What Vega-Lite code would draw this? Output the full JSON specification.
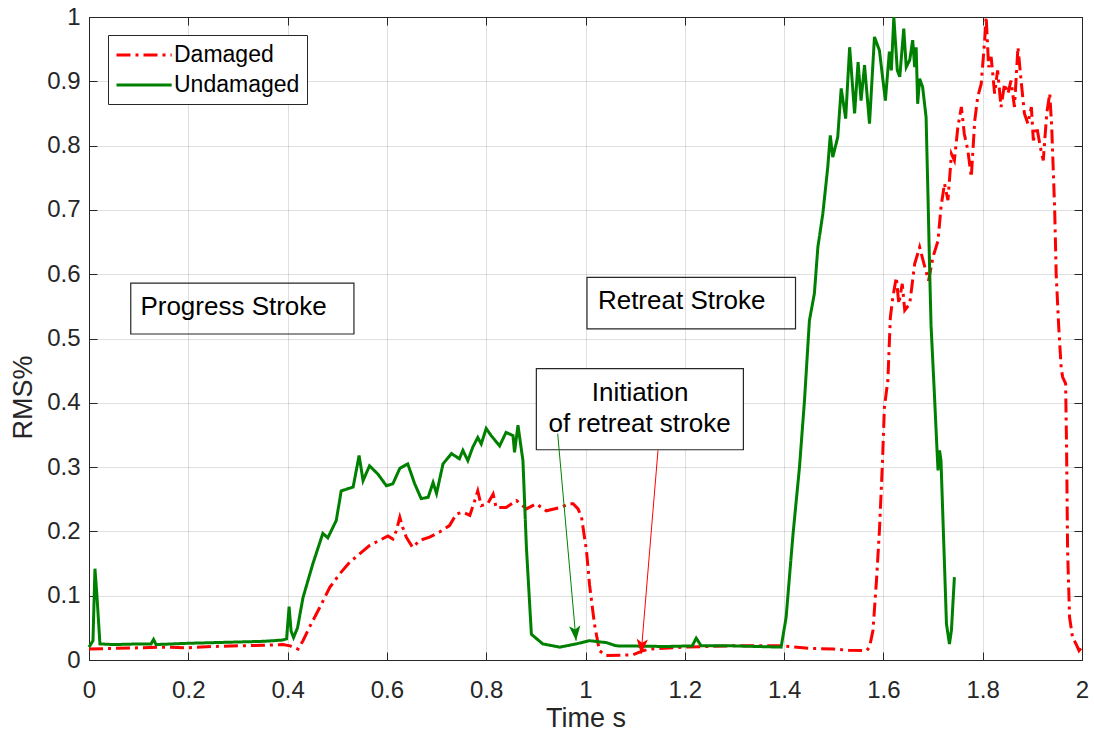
{
  "$schema": "https://vega.github.io/schema/vega-lite/v6.json",
  "width": 993,
  "height": 643,
  "autosize": {"type": "none"},
  "padding": {"left": 89, "top": 17, "right": 12, "bottom": 75},
  "background": "white",
  "config": {
    "font": "Liberation Sans",
    "view": {"stroke": "#262626", "strokeWidth": 1},
    "axis": {
      "labelFont": "Liberation Sans",
      "titleFont": "Liberation Sans",
      "labelFontSize": 24,
      "titleFontSize": 27,
      "titleFontWeight": "normal",
      "labelColor": "#262626",
      "titleColor": "#262626",
      "domainColor": "#262626",
      "tickColor": "#262626",
      "gridColor": "#262626",
      "gridOpacity": 0.15,
      "gridWidth": 1,
      "labelFlush": false
    }
  },
  "datasets": {
    "curves": [
      {"series": "Damaged", "t": 0, "v": 0.017},
      {"series": "Damaged", "t": 0.05, "v": 0.018},
      {"series": "Damaged", "t": 0.1, "v": 0.019},
      {"series": "Damaged", "t": 0.15, "v": 0.02},
      {"series": "Damaged", "t": 0.2, "v": 0.019},
      {"series": "Damaged", "t": 0.25, "v": 0.021},
      {"series": "Damaged", "t": 0.3, "v": 0.022},
      {"series": "Damaged", "t": 0.35, "v": 0.023},
      {"series": "Damaged", "t": 0.39, "v": 0.024},
      {"series": "Damaged", "t": 0.405, "v": 0.022},
      {"series": "Damaged", "t": 0.421, "v": 0.017},
      {"series": "Damaged", "t": 0.431, "v": 0.03},
      {"series": "Damaged", "t": 0.444, "v": 0.051},
      {"series": "Damaged", "t": 0.465, "v": 0.082},
      {"series": "Damaged", "t": 0.485, "v": 0.113},
      {"series": "Damaged", "t": 0.505, "v": 0.134},
      {"series": "Damaged", "t": 0.525, "v": 0.152},
      {"series": "Damaged", "t": 0.545, "v": 0.165},
      {"series": "Damaged", "t": 0.565, "v": 0.178},
      {"series": "Damaged", "t": 0.585, "v": 0.186},
      {"series": "Damaged", "t": 0.602, "v": 0.193},
      {"series": "Damaged", "t": 0.612, "v": 0.188},
      {"series": "Damaged", "t": 0.619, "v": 0.201},
      {"series": "Damaged", "t": 0.626, "v": 0.222},
      {"series": "Damaged", "t": 0.632, "v": 0.206},
      {"series": "Damaged", "t": 0.639, "v": 0.191},
      {"series": "Damaged", "t": 0.652, "v": 0.175},
      {"series": "Damaged", "t": 0.666, "v": 0.186},
      {"series": "Damaged", "t": 0.686, "v": 0.191},
      {"series": "Damaged", "t": 0.706, "v": 0.199},
      {"series": "Damaged", "t": 0.726, "v": 0.209},
      {"series": "Damaged", "t": 0.74, "v": 0.227},
      {"series": "Damaged", "t": 0.753, "v": 0.23},
      {"series": "Damaged", "t": 0.767, "v": 0.225},
      {"series": "Damaged", "t": 0.777, "v": 0.248},
      {"series": "Damaged", "t": 0.783, "v": 0.263},
      {"series": "Damaged", "t": 0.79, "v": 0.24},
      {"series": "Damaged", "t": 0.803, "v": 0.243},
      {"series": "Damaged", "t": 0.814, "v": 0.258},
      {"series": "Damaged", "t": 0.82, "v": 0.237},
      {"series": "Damaged", "t": 0.84, "v": 0.237},
      {"series": "Damaged", "t": 0.861, "v": 0.248},
      {"series": "Damaged", "t": 0.881, "v": 0.235},
      {"series": "Damaged", "t": 0.901, "v": 0.243},
      {"series": "Damaged", "t": 0.921, "v": 0.232},
      {"series": "Damaged", "t": 0.948, "v": 0.237},
      {"series": "Damaged", "t": 0.968, "v": 0.243},
      {"series": "Damaged", "t": 0.975, "v": 0.243},
      {"series": "Damaged", "t": 0.985, "v": 0.235},
      {"series": "Damaged", "t": 0.992, "v": 0.222},
      {"series": "Damaged", "t": 1.002, "v": 0.17},
      {"series": "Damaged", "t": 1.008, "v": 0.118},
      {"series": "Damaged", "t": 1.018, "v": 0.056},
      {"series": "Damaged", "t": 1.028, "v": 0.0145},
      {"series": "Damaged", "t": 1.042, "v": 0.007},
      {"series": "Damaged", "t": 1.095, "v": 0.008},
      {"series": "Damaged", "t": 1.116, "v": 0.0145},
      {"series": "Damaged", "t": 1.129, "v": 0.017},
      {"series": "Damaged", "t": 1.196, "v": 0.02},
      {"series": "Damaged", "t": 1.297, "v": 0.022},
      {"series": "Damaged", "t": 1.391, "v": 0.022},
      {"series": "Damaged", "t": 1.411, "v": 0.021},
      {"series": "Damaged", "t": 1.45, "v": 0.018},
      {"series": "Damaged", "t": 1.5, "v": 0.017},
      {"series": "Damaged", "t": 1.53, "v": 0.015},
      {"series": "Damaged", "t": 1.566, "v": 0.0145},
      {"series": "Damaged", "t": 1.572, "v": 0.02},
      {"series": "Damaged", "t": 1.579, "v": 0.046},
      {"series": "Damaged", "t": 1.586, "v": 0.123},
      {"series": "Damaged", "t": 1.592, "v": 0.201},
      {"series": "Damaged", "t": 1.598, "v": 0.305},
      {"series": "Damaged", "t": 1.602, "v": 0.393},
      {"series": "Damaged", "t": 1.609, "v": 0.435},
      {"series": "Damaged", "t": 1.614, "v": 0.533},
      {"series": "Damaged", "t": 1.619, "v": 0.564},
      {"series": "Damaged", "t": 1.626, "v": 0.595},
      {"series": "Damaged", "t": 1.631, "v": 0.554},
      {"series": "Damaged", "t": 1.638, "v": 0.585},
      {"series": "Damaged", "t": 1.643, "v": 0.544},
      {"series": "Damaged", "t": 1.653, "v": 0.554},
      {"series": "Damaged", "t": 1.663, "v": 0.616},
      {"series": "Damaged", "t": 1.673, "v": 0.642},
      {"series": "Damaged", "t": 1.68, "v": 0.621},
      {"series": "Damaged", "t": 1.691, "v": 0.59},
      {"series": "Damaged", "t": 1.7, "v": 0.627},
      {"series": "Damaged", "t": 1.71, "v": 0.652},
      {"series": "Damaged", "t": 1.716, "v": 0.704},
      {"series": "Damaged", "t": 1.723, "v": 0.741},
      {"series": "Damaged", "t": 1.73, "v": 0.715},
      {"series": "Damaged", "t": 1.737, "v": 0.787},
      {"series": "Damaged", "t": 1.743, "v": 0.777},
      {"series": "Damaged", "t": 1.75, "v": 0.829},
      {"series": "Damaged", "t": 1.757, "v": 0.86},
      {"series": "Damaged", "t": 1.763, "v": 0.818},
      {"series": "Damaged", "t": 1.77, "v": 0.793},
      {"series": "Damaged", "t": 1.777, "v": 0.751},
      {"series": "Damaged", "t": 1.784, "v": 0.839},
      {"series": "Damaged", "t": 1.79, "v": 0.876},
      {"series": "Damaged", "t": 1.797, "v": 0.896},
      {"series": "Damaged", "t": 1.804, "v": 0.964},
      {"series": "Damaged", "t": 1.807, "v": 1.0},
      {"series": "Damaged", "t": 1.812, "v": 0.922},
      {"series": "Damaged", "t": 1.817, "v": 0.938},
      {"series": "Damaged", "t": 1.824, "v": 0.881},
      {"series": "Damaged", "t": 1.83, "v": 0.917},
      {"series": "Damaged", "t": 1.837, "v": 0.86},
      {"series": "Damaged", "t": 1.844, "v": 0.896},
      {"series": "Damaged", "t": 1.851, "v": 0.881},
      {"series": "Damaged", "t": 1.857, "v": 0.901},
      {"series": "Damaged", "t": 1.864, "v": 0.86},
      {"series": "Damaged", "t": 1.871, "v": 0.953},
      {"series": "Damaged", "t": 1.878, "v": 0.896},
      {"series": "Damaged", "t": 1.884, "v": 0.85},
      {"series": "Damaged", "t": 1.891, "v": 0.834},
      {"series": "Damaged", "t": 1.898, "v": 0.86},
      {"series": "Damaged", "t": 1.902, "v": 0.808},
      {"series": "Damaged", "t": 1.909, "v": 0.829},
      {"series": "Damaged", "t": 1.916, "v": 0.798},
      {"series": "Damaged", "t": 1.922, "v": 0.777},
      {"series": "Damaged", "t": 1.929, "v": 0.85},
      {"series": "Damaged", "t": 1.935, "v": 0.881},
      {"series": "Damaged", "t": 1.939, "v": 0.829},
      {"series": "Damaged", "t": 1.945, "v": 0.7},
      {"series": "Damaged", "t": 1.948, "v": 0.6},
      {"series": "Damaged", "t": 1.953, "v": 0.52},
      {"series": "Damaged", "t": 1.958, "v": 0.455},
      {"series": "Damaged", "t": 1.961, "v": 0.44},
      {"series": "Damaged", "t": 1.967, "v": 0.43},
      {"series": "Damaged", "t": 1.969, "v": 0.326},
      {"series": "Damaged", "t": 1.971, "v": 0.17},
      {"series": "Damaged", "t": 1.975, "v": 0.066},
      {"series": "Damaged", "t": 1.981, "v": 0.035},
      {"series": "Damaged", "t": 1.988, "v": 0.025},
      {"series": "Damaged", "t": 1.994, "v": 0.0145},
      {"series": "Damaged", "t": 2.0, "v": 0.02},
      {"series": "Undamaged", "t": 0, "v": 0.02},
      {"series": "Undamaged", "t": 0.008, "v": 0.03},
      {"series": "Undamaged", "t": 0.012, "v": 0.142},
      {"series": "Undamaged", "t": 0.016, "v": 0.1},
      {"series": "Undamaged", "t": 0.022, "v": 0.025},
      {"series": "Undamaged", "t": 0.05, "v": 0.024},
      {"series": "Undamaged", "t": 0.1, "v": 0.025},
      {"series": "Undamaged", "t": 0.125, "v": 0.025},
      {"series": "Undamaged", "t": 0.13, "v": 0.032},
      {"series": "Undamaged", "t": 0.135, "v": 0.024},
      {"series": "Undamaged", "t": 0.2, "v": 0.026},
      {"series": "Undamaged", "t": 0.25, "v": 0.027},
      {"series": "Undamaged", "t": 0.3, "v": 0.028},
      {"series": "Undamaged", "t": 0.35, "v": 0.029},
      {"series": "Undamaged", "t": 0.39, "v": 0.031},
      {"series": "Undamaged", "t": 0.398, "v": 0.033},
      {"series": "Undamaged", "t": 0.403, "v": 0.083},
      {"series": "Undamaged", "t": 0.407, "v": 0.045},
      {"series": "Undamaged", "t": 0.412, "v": 0.035},
      {"series": "Undamaged", "t": 0.42, "v": 0.05},
      {"series": "Undamaged", "t": 0.431, "v": 0.097},
      {"series": "Undamaged", "t": 0.451, "v": 0.15},
      {"series": "Undamaged", "t": 0.471, "v": 0.197},
      {"series": "Undamaged", "t": 0.481, "v": 0.19},
      {"series": "Undamaged", "t": 0.498, "v": 0.217},
      {"series": "Undamaged", "t": 0.508, "v": 0.263},
      {"series": "Undamaged", "t": 0.532, "v": 0.269},
      {"series": "Undamaged", "t": 0.544, "v": 0.318},
      {"series": "Undamaged", "t": 0.552, "v": 0.279},
      {"series": "Undamaged", "t": 0.565, "v": 0.302},
      {"series": "Undamaged", "t": 0.582, "v": 0.289},
      {"series": "Undamaged", "t": 0.599, "v": 0.271},
      {"series": "Undamaged", "t": 0.612, "v": 0.274},
      {"series": "Undamaged", "t": 0.626, "v": 0.298},
      {"series": "Undamaged", "t": 0.642, "v": 0.305},
      {"series": "Undamaged", "t": 0.656, "v": 0.274},
      {"series": "Undamaged", "t": 0.669, "v": 0.251},
      {"series": "Undamaged", "t": 0.683, "v": 0.253},
      {"series": "Undamaged", "t": 0.693, "v": 0.276},
      {"series": "Undamaged", "t": 0.7, "v": 0.259},
      {"series": "Undamaged", "t": 0.713, "v": 0.305},
      {"series": "Undamaged", "t": 0.73, "v": 0.321},
      {"series": "Undamaged", "t": 0.746, "v": 0.313},
      {"series": "Undamaged", "t": 0.753, "v": 0.326},
      {"series": "Undamaged", "t": 0.763, "v": 0.31},
      {"series": "Undamaged", "t": 0.773, "v": 0.331},
      {"series": "Undamaged", "t": 0.783, "v": 0.346},
      {"series": "Undamaged", "t": 0.79, "v": 0.336},
      {"series": "Undamaged", "t": 0.8, "v": 0.36},
      {"series": "Undamaged", "t": 0.81, "v": 0.349},
      {"series": "Undamaged", "t": 0.827, "v": 0.333},
      {"series": "Undamaged", "t": 0.84, "v": 0.354},
      {"series": "Undamaged", "t": 0.854, "v": 0.349},
      {"series": "Undamaged", "t": 0.857, "v": 0.323},
      {"series": "Undamaged", "t": 0.864, "v": 0.365},
      {"series": "Undamaged", "t": 0.874, "v": 0.31},
      {"series": "Undamaged", "t": 0.881, "v": 0.175},
      {"series": "Undamaged", "t": 0.891, "v": 0.04},
      {"series": "Undamaged", "t": 0.914, "v": 0.025},
      {"series": "Undamaged", "t": 0.948, "v": 0.02},
      {"series": "Undamaged", "t": 0.981, "v": 0.025},
      {"series": "Undamaged", "t": 1.008, "v": 0.03},
      {"series": "Undamaged", "t": 1.042, "v": 0.027},
      {"series": "Undamaged", "t": 1.062, "v": 0.022},
      {"series": "Undamaged", "t": 1.163, "v": 0.021},
      {"series": "Undamaged", "t": 1.215, "v": 0.022},
      {"series": "Undamaged", "t": 1.223, "v": 0.034},
      {"series": "Undamaged", "t": 1.233, "v": 0.022},
      {"series": "Undamaged", "t": 1.297, "v": 0.022},
      {"series": "Undamaged", "t": 1.394, "v": 0.02},
      {"series": "Undamaged", "t": 1.404, "v": 0.066},
      {"series": "Undamaged", "t": 1.418, "v": 0.196},
      {"series": "Undamaged", "t": 1.431, "v": 0.3},
      {"series": "Undamaged", "t": 1.441, "v": 0.403},
      {"series": "Undamaged", "t": 1.451, "v": 0.528},
      {"series": "Undamaged", "t": 1.461, "v": 0.57},
      {"series": "Undamaged", "t": 1.468, "v": 0.642},
      {"series": "Undamaged", "t": 1.478, "v": 0.694},
      {"series": "Undamaged", "t": 1.488, "v": 0.767},
      {"series": "Undamaged", "t": 1.493, "v": 0.816},
      {"series": "Undamaged", "t": 1.498, "v": 0.782},
      {"series": "Undamaged", "t": 1.508, "v": 0.813},
      {"series": "Undamaged", "t": 1.515, "v": 0.889},
      {"series": "Undamaged", "t": 1.524, "v": 0.842},
      {"series": "Undamaged", "t": 1.532, "v": 0.953},
      {"series": "Undamaged", "t": 1.542, "v": 0.85},
      {"series": "Undamaged", "t": 1.549, "v": 0.93},
      {"series": "Undamaged", "t": 1.555, "v": 0.87},
      {"series": "Undamaged", "t": 1.562, "v": 0.925},
      {"series": "Undamaged", "t": 1.572, "v": 0.834},
      {"series": "Undamaged", "t": 1.582, "v": 0.969},
      {"series": "Undamaged", "t": 1.592, "v": 0.948},
      {"series": "Undamaged", "t": 1.604, "v": 0.87},
      {"series": "Undamaged", "t": 1.612, "v": 0.946},
      {"series": "Undamaged", "t": 1.616, "v": 0.917},
      {"series": "Undamaged", "t": 1.621, "v": 1.0},
      {"series": "Undamaged", "t": 1.628, "v": 0.917},
      {"series": "Undamaged", "t": 1.633, "v": 0.907},
      {"series": "Undamaged", "t": 1.641, "v": 0.982},
      {"series": "Undamaged", "t": 1.646, "v": 0.922},
      {"series": "Undamaged", "t": 1.653, "v": 0.933},
      {"series": "Undamaged", "t": 1.659, "v": 0.964},
      {"series": "Undamaged", "t": 1.663, "v": 0.922},
      {"series": "Undamaged", "t": 1.666, "v": 0.953},
      {"series": "Undamaged", "t": 1.669, "v": 0.865},
      {"series": "Undamaged", "t": 1.673, "v": 0.904},
      {"series": "Undamaged", "t": 1.679, "v": 0.891},
      {"series": "Undamaged", "t": 1.686, "v": 0.844},
      {"series": "Undamaged", "t": 1.69, "v": 0.715},
      {"series": "Undamaged", "t": 1.693, "v": 0.611},
      {"series": "Undamaged", "t": 1.696, "v": 0.52},
      {"series": "Undamaged", "t": 1.703, "v": 0.409},
      {"series": "Undamaged", "t": 1.708, "v": 0.326},
      {"series": "Undamaged", "t": 1.71, "v": 0.295},
      {"series": "Undamaged", "t": 1.713, "v": 0.326},
      {"series": "Undamaged", "t": 1.716, "v": 0.31},
      {"series": "Undamaged", "t": 1.723, "v": 0.149},
      {"series": "Undamaged", "t": 1.727, "v": 0.056},
      {"series": "Undamaged", "t": 1.733, "v": 0.025},
      {"series": "Undamaged", "t": 1.737, "v": 0.046},
      {"series": "Undamaged", "t": 1.743, "v": 0.129}
    ],
    "boxes": [
      {"box": "progress", "t": 0.0841, "t2": 0.5336, "v": 0.586, "v2": 0.507},
      {"box": "retreat", "t": 1.003, "t2": 1.423, "v": 0.595, "v2": 0.515}
    ],
    "noteBox": [
      {"box": "initiation", "t": 0.901, "t2": 1.318, "v": 0.453, "v2": 0.327}
    ],
    "labels": [
      {"label": "Progress Stroke", "t": 0.1035, "v": 0.537},
      {"label": "Retreat Stroke", "t": 1.025, "v": 0.546}
    ],
    "noteLabels": [
      {"label": "Initiation", "t": 1.11, "v": 0.4035},
      {"label": "of retreat stroke", "t": 1.109, "v": 0.354}
    ],
    "arrows": [
      {"series": "Undamaged", "t": 0.944, "v": 0.352, "t2": 0.981, "v2": 0.03},
      {"series": "Damaged", "t": 1.146, "v": 0.326, "t2": 1.112, "v2": 0.0093}
    ]
  },
  "layer": [
    {
      "data": {"name": "curves"},
      "mark": {"type": "line", "strokeWidth": 3, "interpolate": "linear"},
      "encoding": {
        "x": {
          "field": "t", "type": "quantitative",
          "scale": {"domain": [0, 2], "nice": false, "zero": false},
          "axis": {
            "title": "Time s",
            "values": [0, 0.2, 0.4, 0.6, 0.8, 1, 1.2, 1.4, 1.6, 1.8, 2],
            "format": "~g",
            "tickSize": -8,
            "labelPadding": 26,
            "titlePadding": 3,
            "grid": true
          }
        },
        "y": {
          "field": "v", "type": "quantitative",
          "scale": {"domain": [0, 1], "nice": false, "zero": false},
          "axis": {
            "title": "RMS%",
            "values": [0, 0.1, 0.2, 0.3, 0.4, 0.5, 0.6, 0.7, 0.8, 0.9, 1],
            "format": "~g",
            "tickSize": -8,
            "labelPadding": 17,
            "titleX": -58,
            "titleY": 380,
            "titleAlign": "center",
            "titleBaseline": "alphabetic",
            "grid": true
          }
        },
        "color": {
          "field": "series", "type": "nominal",
          "scale": {"domain": ["Damaged", "Undamaged"], "range": ["#ff0000", "#008000"]},
          "legend": {
            "orient": "none",
            "legendX": 19,
            "legendY": 18,
            "title": null,
            "symbolType": "M-1,0H3.8",
            "symbolSize": 529,
            "symbolStrokeWidth": 3,
            "symbolFillColor": "transparent",
            "labelFontSize": 23,
            "labelColor": "#000000",
            "labelFont": "Liberation Sans",
            "strokeColor": "#262626",
            "fillColor": "#ffffff",
            "padding": 7,
            "rowPadding": 5,
            "labelOffset": 33
          }
        },
        "strokeDash": {
          "field": "series", "type": "nominal",
          "scale": {"domain": ["Damaged", "Undamaged"], "range": [[14, 5, 3, 5], [1, 0]]},
          "legend": {
            "orient": "none",
            "legendX": 19,
            "legendY": 18,
            "title": null,
            "symbolType": "M-1,0H3.8",
            "symbolSize": 529,
            "symbolStrokeWidth": 3,
            "symbolFillColor": "transparent",
            "labelFontSize": 23,
            "labelColor": "#000000",
            "labelFont": "Liberation Sans",
            "strokeColor": "#262626",
            "fillColor": "#ffffff",
            "padding": 7,
            "rowPadding": 5,
            "labelOffset": 33
          }
        }
      }
    },
    {
      "data": {"name": "boxes"},
      "mark": {"type": "rect", "fill": "transparent", "stroke": "#262626", "strokeWidth": 1.2},
      "encoding": {
        "x": {"field": "t", "type": "quantitative",
          "axis": {"orient": "top", "labels": false, "title": null, "grid": false, "domain": false, "tickSize": -8,
            "values": [0, 0.2, 0.4, 0.6, 0.8, 1, 1.2, 1.4, 1.6, 1.8, 2]}},
        "x2": {"field": "t2"},
        "y": {"field": "v", "type": "quantitative",
          "axis": {"orient": "right", "labels": false, "title": null, "grid": false, "domain": false, "tickSize": -8,
            "values": [0, 0.1, 0.2, 0.3, 0.4, 0.5, 0.6, 0.7, 0.8, 0.9, 1]}},
        "y2": {"field": "v2"}
      }
    },
    {
      "data": {"name": "noteBox"},
      "mark": {"type": "rect", "fill": "#ffffff", "stroke": "#262626", "strokeWidth": 1.2},
      "encoding": {
        "x": {"field": "t", "type": "quantitative", "axis": null},
        "x2": {"field": "t2"},
        "y": {"field": "v", "type": "quantitative", "axis": null},
        "y2": {"field": "v2"}
      }
    },
    {
      "data": {"name": "labels"},
      "mark": {"type": "text", "align": "left", "baseline": "alphabetic", "fontSize": 26, "font": "Liberation Sans", "color": "#000000"},
      "encoding": {
        "x": {"field": "t", "type": "quantitative", "axis": null},
        "y": {"field": "v", "type": "quantitative", "axis": null},
        "text": {"field": "label"}
      }
    },
    {
      "data": {"name": "noteLabels"},
      "mark": {"type": "text", "align": "center", "baseline": "alphabetic", "fontSize": 26, "font": "Liberation Sans", "color": "#000000"},
      "encoding": {
        "x": {"field": "t", "type": "quantitative", "axis": null},
        "y": {"field": "v", "type": "quantitative", "axis": null},
        "text": {"field": "label"}
      }
    },
    {
      "data": {"name": "arrows"},
      "transform": [{"filter": "datum.series === 'Undamaged'"}],
      "layer": [
        {
          "mark": {"type": "rule", "color": "#008000", "strokeWidth": 1},
          "encoding": {
            "x": {"field": "t", "type": "quantitative", "axis": null},
            "y": {"field": "v", "type": "quantitative", "axis": null},
            "x2": {"field": "t2"},
            "y2": {"field": "v2"}
          }
        },
        {
          "mark": {"type": "point", "shape": "M0,0L-0.38,-1L0,-0.75L0.38,-1Z", "filled": true, "color": "#008000", "opacity": 1, "size": 900, "angle": 355},
          "encoding": {
            "x": {"field": "t2", "type": "quantitative", "axis": null},
            "y": {"field": "v2", "type": "quantitative", "axis": null}
          }
        }
      ]
    },
    {
      "data": {"name": "arrows"},
      "transform": [{"filter": "datum.series === 'Damaged'"}],
      "layer": [
        {
          "mark": {"type": "rule", "color": "#ff0000", "strokeWidth": 1},
          "encoding": {
            "x": {"field": "t", "type": "quantitative", "axis": null},
            "y": {"field": "v", "type": "quantitative", "axis": null},
            "x2": {"field": "t2"},
            "y2": {"field": "v2"}
          }
        },
        {
          "mark": {"type": "point", "shape": "M0,0L-0.38,-1L0,-0.75L0.38,-1Z", "filled": true, "color": "#ff0000", "opacity": 1, "size": 900, "angle": 4.5},
          "encoding": {
            "x": {"field": "t2", "type": "quantitative", "axis": null},
            "y": {"field": "v2", "type": "quantitative", "axis": null}
          }
        }
      ]
    }
  ],
  "resolve": {"axis": {"x": "independent", "y": "independent"}}
}
